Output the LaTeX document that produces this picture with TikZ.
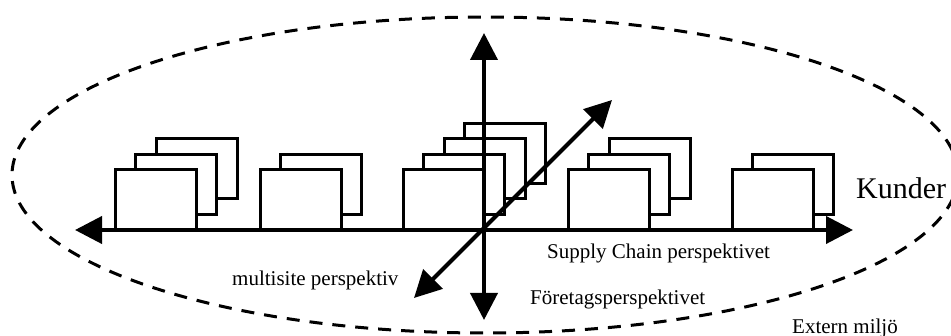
\documentclass[tikz,border=0pt]{standalone}
\usepackage{fontspec}
\setmainfont{Liberation Serif}
\usetikzlibrary{arrows.meta}
\tikzset{
  site/.style={draw, line width=3pt, fill=white, minimum width=81pt, minimum height=60pt, inner sep=0pt, outer sep=0pt},
  axis/.style={line width=4pt, {Triangle[length=27pt,width=27pt]}-{Triangle[length=27pt,width=27pt]}},
  oneaxis/.style={line width=4pt, -{Triangle[length=27pt,width=27pt]}},
  env/.style={draw, line width=3pt, dash pattern=on 13pt off 10pt},
  lbl/.style={anchor=base west, inner sep=0pt, font=\fontsize{21}{25}\selectfont},
  biglbl/.style={anchor=base west, inner sep=0pt, font=\fontsize{30}{36}\selectfont}
}
\begin{document}
\begin{tikzpicture}[x=1pt,y=-1pt]
\useasboundingbox (0,0) rectangle (951,336);
% environment
\draw[env] (485,175) ellipse [x radius=473, y radius=158];
% group 1
\node[site] (g1c) at (197,169) {};
\node[site] (g1b) at (176,184.5) {};
\node[site] (g1a) at (155.5,200) {};
% group 2
\node[site] (g2b) at (320.5,184.5) {};
\node[site] (g2a) at (300.5,200) {};
% group 3
\node[site] (g3d) at (505,153.5) {};
\node[site] (g3c) at (484.5,169) {};
\node[site] (g3b) at (464,184.5) {};
\node[site] (g3a) at (443.5,200) {};
% group 4
\node[site] (g4c) at (649.5,169) {};
\node[site] (g4b) at (629,184.5) {};
\node[site] (g4a) at (608.5,200) {};
% group 5
\node[site] (g5b) at (793,184.5) {};
\node[site] (g5a) at (772.5,200) {};
% axes
\coordinate (hl) at (75,230);
\coordinate (hr) at (853,230);
\coordinate (vt) at (484,33);
\coordinate (vb) at (484,320);
\coordinate (dl) at (414,298);
\coordinate (dr) at (612,100);
\draw[axis] (hl) -- (hr);
\draw[axis] (vb) -- (vt);
\draw[axis] (dl) -- (dr);
% labels
\node[lbl] (sc) at (547,259) {Supply Chain perspektivet};
\node[lbl] (ft) at (530,305) {Företagsperspektivet};
\node[lbl] (ms) at (232,286) {multisite perspektiv};
\node[lbl] (em) at (792,334) {Extern miljö};
\node[biglbl] (ku) at (856,199) {Kunder};
\end{tikzpicture}
\end{document}
